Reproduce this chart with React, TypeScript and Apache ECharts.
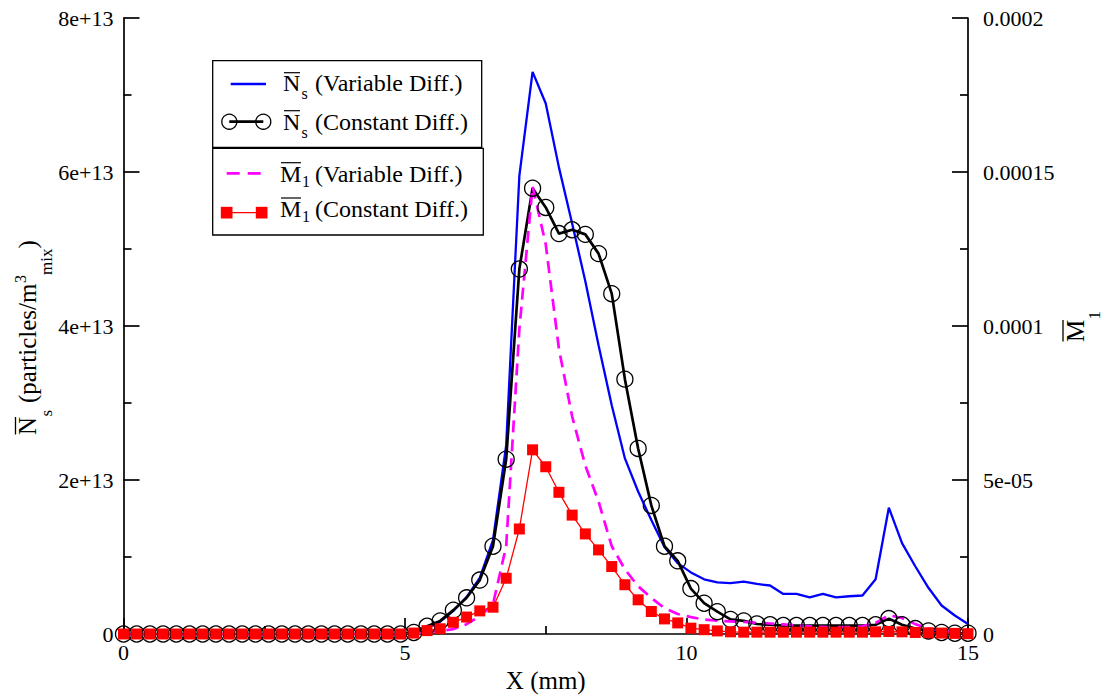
import React, { useEffect, useRef } from "react";
import * as echarts from "echarts";

// Grid positions along the domain (mm)
const X_MM = [
  0, 0.234, 0.469, 0.703, 0.938, 1.172, 1.406, 1.641, 1.875, 2.109, 2.344, 2.578, 2.813,
  3.047, 3.281, 3.516, 3.75, 3.984, 4.219, 4.453, 4.688, 4.922, 5.156, 5.391, 5.625, 5.859,
  6.094, 6.328, 6.563, 6.797, 7.031, 7.266, 7.5, 7.734, 7.969, 8.203, 8.438, 8.672, 8.906,
  9.141, 9.375, 9.609, 9.844, 10.078, 10.313, 10.547, 10.781, 11.016, 11.25, 11.484, 11.719,
  11.953, 12.188, 12.422, 12.656, 12.891, 13.125, 13.359, 13.594, 13.828, 14.063, 14.297,
  14.531, 14.766, 15,
];

// Ns, units of 1e13 particles/m^3
const NS_VARIABLE = [
  0, 0, 0, 0, 0, 0, 0, 0, 0, 0, 0, 0, 0, 0, 0, 0, 0, 0, 0, 0, 0, 0,
  0.02, 0.08, 0.16, 0.3, 0.48, 0.73, 1.22, 2.45, 5.95, 7.3, 6.89, 6.06, 5.33, 4.58, 3.75,
  2.97, 2.28, 1.85, 1.48, 1.13, 0.92, 0.8, 0.71, 0.67, 0.66, 0.68, 0.65, 0.63, 0.52, 0.52,
  0.475, 0.52, 0.475, 0.49, 0.5, 0.71, 1.64, 1.18, 0.88, 0.6, 0.37, 0.24, 0.13,
];
const NS_CONSTANT = [
  0, 0, 0, 0, 0, 0, 0, 0, 0, 0, 0, 0, 0, 0, 0, 0, 0, 0, 0, 0, 0, 0,
  0.02, 0.1, 0.17, 0.31, 0.47, 0.7, 1.14, 2.27, 4.74, 5.79, 5.54, 5.2, 5.25, 5.19, 4.94,
  4.42, 3.31, 2.41, 1.67, 1.14, 0.95, 0.59, 0.4, 0.29, 0.19, 0.17, 0.13, 0.12, 0.11, 0.11,
  0.11, 0.11, 0.11, 0.11, 0.11, 0.12, 0.2, 0.12, 0.07, 0.04, 0.02, 0.01, 0.01,
];
// M1, units of 1e-5
const M1_VARIABLE = [
  0, 0, 0, 0, 0, 0, 0, 0, 0, 0, 0, 0, 0, 0, 0, 0, 0, 0, 0, 0, 0, 0,
  0.03, 0.06, 0.1, 0.16, 0.32, 0.58, 0.97, 2.85, 9.9, 14.53, 12.65, 9.26, 7.06, 5.47, 4.3,
  2.85, 2.1, 1.55, 1.17, 0.84, 0.65, 0.55, 0.47, 0.43, 0.41, 0.39, 0.37, 0.34, 0.31, 0.28,
  0.25, 0.23, 0.22, 0.22, 0.25, 0.36, 0.61, 0.52, 0.32, 0.18, 0.1, 0.05, 0.02,
];
const M1_CONSTANT = [
  0, 0, 0, 0, 0, 0, 0, 0, 0, 0, 0, 0, 0, 0, 0, 0, 0, 0, 0, 0, 0, 0,
  0.03, 0.11, 0.17, 0.38, 0.55, 0.75, 0.87, 1.81, 3.41, 5.98, 5.43, 4.6, 3.86, 3.25, 2.73,
  2.19, 1.6, 1.11, 0.73, 0.49, 0.36, 0.19, 0.14, 0.1, 0.07, 0.06, 0.06, 0.06, 0.06, 0.06,
  0.06, 0.06, 0.06, 0.06, 0.06, 0.07, 0.08, 0.07, 0.05, 0.04, 0.03, 0.02, 0.01,
];

const LEFT_TICK_LABELS = ["0", "2e+13", "4e+13", "6e+13", "8e+13"];
const RIGHT_TICK_LABELS = ["0", "5e-05", "0.0001", "0.00015", "0.0002"];
const LEGEND_TEXTS = ["(Variable Diff.)", "(Constant Diff.)", "(Variable Diff.)", "(Constant Diff.)"];

const FONT = "'Liberation Serif', 'Times New Roman', serif";

const pairs = (ys: number[]) => X_MM.map((x, i) => [x, ys[i]]);

const axisCommon = {
  axisLine: { show: true, lineStyle: { color: "#000", width: 1.7 } },
  axisTick: { show: true, inside: true, length: 16, lineStyle: { color: "#000", width: 1.7 } },
  minorTick: { show: true, splitNumber: 2, length: 8, lineStyle: { color: "#000", width: 1.7 } },
  splitLine: { show: false },
  minorSplitLine: { show: false },
};

function txt(x: number, y: number, text: string, size: number, extra: any = {}) {
  return {
    type: "text",
    x,
    y,
    z: 100,
    style: {
      text,
      font: `${size}px ${FONT}`,
      fill: "#000",
      align: "left",
      verticalAlign: "middle",
    },
    ...extra,
  };
}
function ln(x1: number, y1: number, x2: number, y2: number, stroke: string, w: number, dash?: number[]) {
  return {
    type: "line",
    z: 100,
    shape: { x1, y1, x2, y2 },
    style: { stroke, lineWidth: w, lineDash: dash },
  };
}

export default function App() {
  const ref = useRef<HTMLDivElement>(null);
  useEffect(() => {
    document.body.style.margin = "0";
    if (!ref.current) return;
    const chart = echarts.init(ref.current, null, { renderer: "svg" });

    const legend: any[] = [
      { type: "rect", z: 99, shape: { x: 212.7, y: 60.7, width: 269, height: 86.6 }, style: { fill: "#fff", stroke: "#000", lineWidth: 1.3 } },
      { type: "rect", z: 99, shape: { x: 212.7, y: 148.3, width: 270.6, height: 86.7 }, style: { fill: "#fff", stroke: "#000", lineWidth: 1.3 } },
      // row 1
      ln(230.7, 84, 266, 84, "#0000ff", 2.3),
      txt(283, 82.8, "N", 24),
      ln(284, 72.7, 300, 72.7, "#000", 1.2),
      txt(301.5, 93, "s", 16),
      txt(315, 82.8, LEGEND_TEXTS[0], 24),
      // row 2
      ln(229.3, 121.7, 263.3, 121.7, "#000", 2.7),
      { type: "circle", z: 100, shape: { cx: 229.3, cy: 121.7, r: 7.5 }, style: { fill: "none", stroke: "#000", lineWidth: 1.3 } },
      { type: "circle", z: 100, shape: { cx: 263.3, cy: 121.7, r: 7.5 }, style: { fill: "none", stroke: "#000", lineWidth: 1.3 } },
      txt(283, 121.7, "N", 24),
      ln(284, 110.7, 300, 110.7, "#000", 1.2),
      txt(301.5, 132, "s", 16),
      txt(315, 121.7, LEGEND_TEXTS[1], 24),
      // row 3
      ln(226.7, 173.3, 261.7, 173.3, "#ff00ff", 2.7, [13, 8]),
      txt(280, 174.2, "M", 24),
      ln(281, 162.7, 301, 162.7, "#000", 1.2),
      txt(302, 181, "1", 16),
      txt(315, 174.2, LEGEND_TEXTS[2], 24),
      // row 4
      ln(226.7, 212.7, 261.7, 212.7, "#ff0000", 1.3),
      { type: "rect", z: 100, shape: { x: 220.8, y: 206.8, width: 11.7, height: 11.7 }, style: { fill: "#ff0000" } },
      { type: "rect", z: 100, shape: { x: 255.8, y: 206.8, width: 11.7, height: 11.7 }, style: { fill: "#ff0000" } },
      txt(280, 209.2, "M", 24),
      ln(281, 198, 301, 198, "#000", 1.2),
      txt(302, 216.5, "1", 16),
      txt(315, 209.2, LEGEND_TEXTS[3], 24),
    ];

    const leftTitle = {
      type: "group",
      x: 27.5,
      y: 435,
      rotation: Math.PI / 2,
      children: [
        txt(0, 0, "N", 25),
        ln(0.5, -12, 18, -12, "#000", 1.3),
        txt(18.5, 19, "s", 17),
        txt(32, 0, "(particles/m", 25),
        txt(152, -7, "3", 16),
        txt(160, 19, "mix", 17),
        txt(186.5, 0, ")", 25),
      ],
    };
    const rightTitle = {
      type: "group",
      x: 1075,
      y: 342,
      rotation: Math.PI / 2,
      children: [
        txt(0, 0, "M", 25),
        ln(0.5, -12, 22, -12, "#000", 1.3),
        txt(22.5, 19, "1", 17),
      ],
    };

    chart.setOption({
      animation: false,
      backgroundColor: "#fff",
      grid: { left: 123.5, right: 135, top: 18, bottom: 62, containLabel: false },
      xAxis: {
        type: "value",
        min: 0,
        max: 15,
        interval: 5,
        ...axisCommon,
        axisLabel: { color: "#000", fontSize: 22, fontFamily: FONT, margin: 7 },
        name: "X (mm)",
        nameLocation: "middle",
        nameGap: 34,
        nameTextStyle: { color: "#000", fontSize: 25, fontFamily: FONT },
      },
      yAxis: [
        {
          type: "value",
          position: "left",
          min: 0,
          max: 8,
          interval: 2,
          ...axisCommon,
          axisLabel: {
            color: "#000",
            fontSize: 22,
            fontFamily: FONT,
            margin: 10,
            formatter: (v: number) => LEFT_TICK_LABELS[Math.round(v / 2)] ?? "",
          },
        },
        {
          type: "value",
          position: "right",
          min: 0,
          max: 20,
          interval: 5,
          ...axisCommon,
          axisLabel: {
            color: "#000",
            fontSize: 22,
            fontFamily: FONT,
            margin: 15,
            formatter: (v: number) => RIGHT_TICK_LABELS[Math.round(v / 5)] ?? "",
          },
        },
      ],
      series: [
        {
          name: "Ns (Variable Diff.)",
          type: "line",
          yAxisIndex: 0,
          data: pairs(NS_VARIABLE),
          showSymbol: false,
          symbol: "none",
          clip: false,
          lineStyle: { color: "#0000ff", width: 2.3 },
          itemStyle: { color: "#0000ff" },
        },
        {
          name: "Ns (Constant Diff.)",
          type: "line",
          yAxisIndex: 0,
          data: pairs(NS_CONSTANT),
          symbol: "circle",
          symbolSize: 16,
          showSymbol: true,
          showAllSymbol: true,
          clip: false,
          lineStyle: { color: "#000", width: 2.7 },
          itemStyle: { color: "rgba(0,0,0,0)", borderColor: "#000", borderWidth: 1.3 },
        },
        {
          name: "M1 (Variable Diff.)",
          type: "line",
          yAxisIndex: 1,
          data: pairs(M1_VARIABLE),
          showSymbol: false,
          symbol: "none",
          clip: false,
          lineStyle: { color: "#ff00ff", width: 2.7, type: [12, 7] },
          itemStyle: { color: "#ff00ff" },
        },
        {
          name: "M1 (Constant Diff.)",
          type: "line",
          yAxisIndex: 1,
          data: pairs(M1_CONSTANT),
          symbol: "rect",
          symbolSize: 11,
          showSymbol: true,
          showAllSymbol: true,
          clip: false,
          lineStyle: { color: "#ff0000", width: 1.3 },
          itemStyle: { color: "#ff0000" },
        },
      ],
      graphic: [...legend, leftTitle, rightTitle],
    });
    return () => chart.dispose();
  }, []);
  return <div ref={ref} style={{ width: 1103, height: 698 }} />;
}
